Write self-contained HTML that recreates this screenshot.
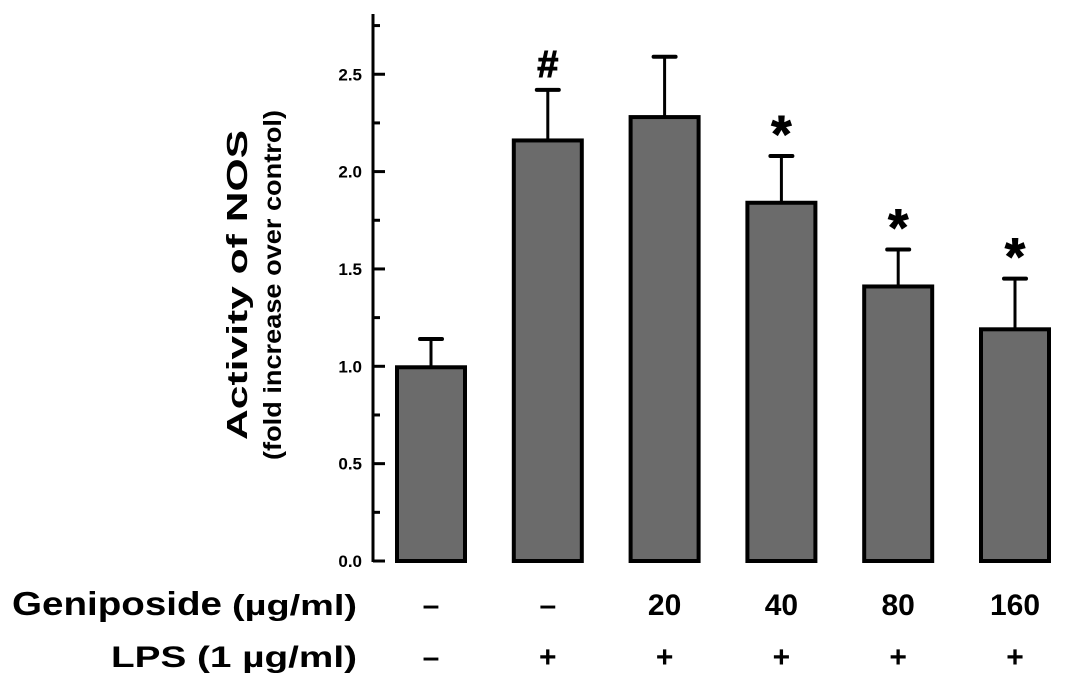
<!DOCTYPE html>
<html><head><meta charset="utf-8"><style>
body{margin:0;background:#fff;}
svg{display:block;font-family:"Liberation Sans",Arial,sans-serif;font-weight:bold;}
</style></head><body>
<svg width="1087" height="687">
<g id="g"></g>
</svg>
<script>
const categories=["control","LPS","20","40","80","160"];
const values=[0.995,2.16,2.28,1.84,1.41,1.19];
const errTops=[1.14,2.42,2.59,2.08,1.60,1.45];
const marks=["","#","","*","*","*"];
const geniLabels=["–","–","20","40","80","160"];
const lpsLabels=["–","+","+","+","+","+"];
const yTicks=["0.0","0.5","1.0","1.5","2.0","2.5"];
const NS="http://www.w3.org/2000/svg";
const g=document.getElementById('g');
const y0=561,ppu=194.7,axX=373;
const y=v=>y0-v*ppu;
const xc=i=>431+i*116.8;
function el(t,a,txt){const e=document.createElementNS(NS,t);for(const k in a)e.setAttribute(k,a[k]);if(txt!==undefined)e.textContent=txt;g.appendChild(e);return e;}
let e=el('line',{x1:axX,y1:14,x2:axX,y2:y0+1,stroke:'#000','stroke-width':3});


yTicks.forEach(t=>{const v=parseFloat(t);
 let l=el('line',{x1:axX,y1:y(v),x2:axX+12,y2:y(v),stroke:'#000','stroke-width':3});
 
 
 let m=el('line',{x1:axX,y1:y(v+0.25),x2:axX+7,y2:y(v+0.25),stroke:'#000','stroke-width':3});
 
 
 let tx=el('text',{x:axX-11,y:y(v)+6,'text-anchor':'end','font-size':17},t);
 
 
});
let yt=el('text',{transform:'translate(255,285) rotate(-90)','text-anchor':'middle','font-size':29});


yt.innerHTML='<tspan x="0" dy="-8" textLength="310" lengthAdjust="spacingAndGlyphs">Activity of NOS</tspan><tspan x="0" dy="34" font-size="25" textLength="350" lengthAdjust="spacingAndGlyphs">(fold increase over control)</tspan>';
categories.forEach((c,i)=>{
 const cx=xc(i),w=68;
 let eb=el('line',{x1:cx,y1:y(values[i]),x2:cx,y2:y(errTops[i]),stroke:'#000','stroke-width':3});
 
 
 let cp=el('line',{x1:cx-11,y1:y(errTops[i]),x2:cx+11,y2:y(errTops[i]),stroke:'#000','stroke-width':4,'stroke-linecap':'round'});
 
 
 let b=el('rect',{x:cx-w/2,y:y(values[i]),width:w,height:y0-y(values[i]),fill:'#6b6b6b',stroke:'#000','stroke-width':4});
 
 
 if(marks[i]){const star=marks[i]=='*';
  let s=el('text',{x:cx,y:y(errTops[i])+(star?-4:-13),'text-anchor':'middle','font-size':star?52:38,'stroke':'#000','stroke-width':1},marks[i]);
  
  }
 let gl=el('text',{x:cx,y:615,'text-anchor':'middle','font-size':30},geniLabels[i]);
 
 
 let ll=el('text',{x:cx,y:667,'text-anchor':'middle','font-size':30},lpsLabels[i]);
 
 
});
let r1=el('text',{x:12,y:615,'font-size':33,textLength:210,lengthAdjust:'spacingAndGlyphs'},'Geniposide');


let r1b=el('text',{x:232,y:615,'font-size':29,textLength:125,lengthAdjust:'spacingAndGlyphs'},'(µg/ml)');


let r2=el('text',{x:111,y:667,'font-size':30,textLength:246,lengthAdjust:'spacingAndGlyphs'},'LPS (1 µg/ml)');


</script>
</body></html>
